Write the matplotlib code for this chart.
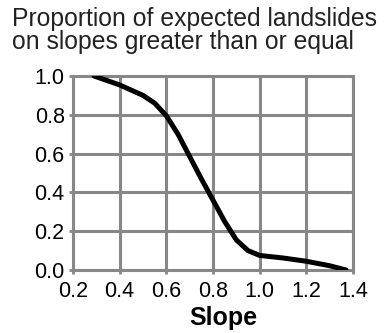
import matplotlib.pyplot as plt
import numpy as np

plt.rcParams['font.family'] = ['Liberation Sans', 'DejaVu Sans']

# cumulative proportion of landslides on slopes >= x
slope = [0.29, 0.40, 0.50, 0.55, 0.60, 0.65, 0.70, 0.75, 0.80, 0.85, 0.90, 0.95, 1.00, 1.10, 1.20, 1.30, 1.37]
proportion = [1.0, 0.954, 0.90, 0.86, 0.795, 0.70, 0.585, 0.47, 0.36, 0.25, 0.155, 0.10, 0.075, 0.062, 0.045, 0.022, 0.0]

xticks = [0.2, 0.4, 0.6, 0.8, 1.0, 1.2, 1.4]
yticks = [0.0, 0.2, 0.4, 0.6, 0.8, 1.0]

grid_col = '#878787'

fig = plt.figure(figsize=(3.85, 3.33), dpi=100)
ax = fig.add_axes([73/385, 63/333, 280/385, 194/333])

ax.plot(slope, proportion, color='black', linewidth=3.6, solid_capstyle='round',
        solid_joinstyle='round', zorder=3)

ax.set_xlim(0.2, 1.4)
ax.set_ylim(0.0, 1.0)
ax.set_xticks(xticks)
ax.set_yticks(yticks)
ax.set_xticklabels([f'{v:.1f}' for v in xticks])
ax.set_yticklabels([f'{v:.1f}' for v in yticks])
ax.grid(True, color=grid_col, linewidth=2.2)
for s in ax.spines.values():
    s.set_color(grid_col)
    s.set_linewidth(2.2)
ax.tick_params(direction='out', length=3, width=2, color=grid_col, labelsize=15.5)
ax.tick_params(axis='x', pad=5)
ax.tick_params(axis='y', pad=3)

ax.set_xlabel('Slope', fontsize=18, fontweight='bold')
ax.xaxis.set_label_coords(150/280, -0.185)

fig.text(12/385, 1 - 7/333, 'Proportion of expected landslides\non slopes greater than or equal',
         fontsize=17.8, va='top', ha='left', color='#222222', linespacing=0.95)

fig.savefig('out.png', dpi=100)
